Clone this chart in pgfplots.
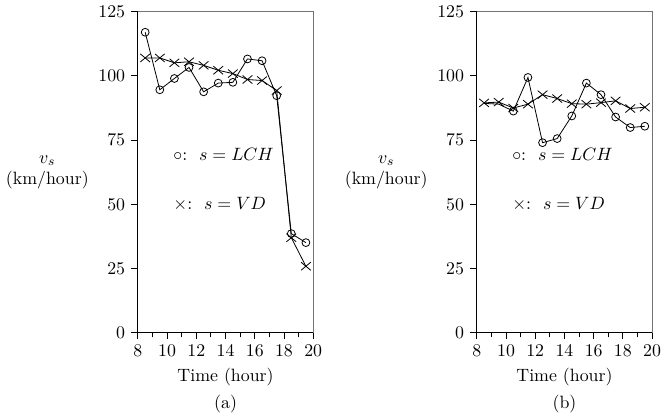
\documentclass[border=0pt]{standalone}
\usepackage{pgfplots}
\pgfplotsset{compat=1.18}
\pgfplotstableread{
t lch vd
8.5 117 107
9.5 94.6 107
10.5 99 105.1
11.5 103.3 105.5
12.5 93.8 104.1
13.5 97.2 102.2
14.5 97.5 100.9
15.5 106.6 98.6
16.5 105.9 98.2
17.5 92.3 94.3
18.5 38.6 37
19.5 35.1 25.9
}\dataA
\pgfplotstableread{
t vd
8.5 89.5
9.5 89.8
10.5 87.5
11.5 89
12.5 92.7
13.5 91.2
14.5 89.2
15.5 89
16.5 89.6
17.5 90.3
18.5 87.3
19.5 87.8
}\dataBvd
\pgfplotstableread{
t lch
8.5 89.3
9.5 89.0
10.5 86.3
11.5 99.4
12.5 74
13.5 75.6
14.5 84.4
15.5 97.2
16.5 92.7
17.5 84
18.5 79.9
19.5 80.4
}\dataBlch
\pgfplotsset{
  myax/.style={
    scale only axis, width=98.3pt, height=180pt,
    xmin=8, xmax=20, ymin=0, ymax=125,
    axis x line=bottom, axis y line=left,
    axis line style={-, line width=0.6pt},
    xtick={8,10,...,20},
    extra x ticks={9,11,...,19},
    extra x tick labels={},
    extra x tick style={major tick length=2.6pt},
    ytick={0,25,...,125},
    tick align=outside,
    major tick length=3.6pt,
    every tick/.style={black, line width=0.55pt},
    xlabel={Time (hour)},
    xlabel style={at={(rel axis cs:0.5,0)}, anchor=center, yshift=-25pt},
    ylabel={$v_s$\\(km/hour)},
    every axis y label/.style={at={(rel axis cs:0,0.5)}, anchor=east, xshift=-24pt, align=center},
    clip=false,
  },
  lch/.style={black, line width=0.45pt, mark=o, mark size=2.2pt, mark options={line width=0.45pt}},
  vd/.style={black, line width=0.45pt, mark=x, mark size=3.2pt, mark options={line width=0.45pt, xscale=1.2}},
}
\begin{document}
\begin{tikzpicture}
\begin{axis}[myax]
\addplot[lch] table[x=t,y=lch]{\dataA};
\addplot[vd] table[x=t,y=vd]{\dataA};
\draw[black!55, line width=0.6pt] (rel axis cs:0,1) -- (rel axis cs:1,1) -- (rel axis cs:1,0);
\node[anchor=west] at (axis cs:10,69.3) {$\circ$:~~$s=LCH$};
\node[anchor=west] at (axis cs:10,50) {$\times$:~~$s=VD$};
\node at (rel axis cs:0.5,0) [yshift=-40pt] {(a)};
\end{axis}
\begin{axis}[myax, at={(190pt,0)}]
\addplot[black, line width=0.45pt, mark=o, mark size=2.2pt, mark options={line width=0.45pt}, mark indices={3,...,12}] table[x=t,y=lch]{\dataBlch};
\addplot[vd] table[x=t,y=vd]{\dataBvd};
\draw[black!55, line width=0.6pt] (rel axis cs:0,1) -- (rel axis cs:1,1) -- (rel axis cs:1,0);
\node[anchor=west] at (axis cs:10,69.3) {$\circ$:~~$s=LCH$};
\node[anchor=west] at (axis cs:10,50) {$\times$:~~$s=VD$};
\node at (rel axis cs:0.5,0) [yshift=-40pt] {(b)};
\end{axis}
\end{tikzpicture}
\end{document}
